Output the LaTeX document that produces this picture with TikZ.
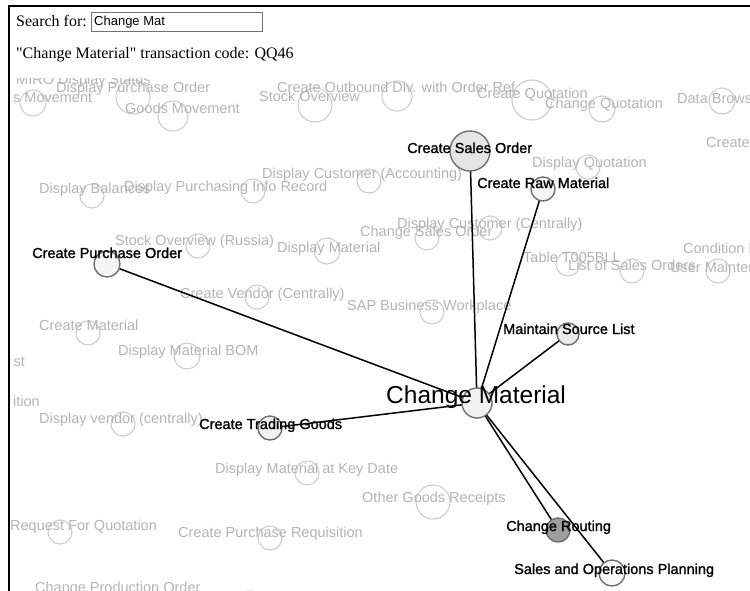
\documentclass[tikz,border=0pt]{standalone}
\usepackage{fontspec}
\newfontfamily\lsans{Liberation Sans}
\newfontfamily\lsansb{Liberation Sans}[FakeBold=1.3]
\newfontfamily\lserif{Liberation Serif}
\definecolor{faintText}{HTML}{B4B4B4}
\definecolor{faintLine}{HTML}{CDCDCD}
\definecolor{mainLine}{HTML}{707070}
\tikzset{
  fcirc/.style={circle, draw=faintLine, line width=1.1pt, inner sep=0pt, minimum size=#1},
  flabel/.style={anchor=base west, inner sep=0pt, text=faintText, font=\lsans\fontsize{14.5}{17}\selectfont},
  flabelr/.style={anchor=base east, inner sep=0pt, text=faintText, font=\lsans\fontsize{14.5}{17}\selectfont},
  mcirc/.style 2 args={circle, draw=mainLine, line width=1.4pt, inner sep=0pt, minimum size=#1, fill=#2},
  mlabel/.style={anchor=base west, inner sep=0pt, text=black, font=\lsansb\fontsize{14.5}{17}\selectfont},
  edgeline/.style={draw=black, line width=1.5pt},
  headtext/.style={anchor=base west, inner sep=0pt, font=\lserif\fontsize{16}{19}\selectfont},
  inputbox/.style={draw=black!55, line width=0.8pt, fill=white},
  frameline/.style={draw=black, line width=2pt}
}
\begin{document}
\begin{tikzpicture}[x=1pt,y=-1pt]
\useasboundingbox (0,0) rectangle (750,590);
\fill[white] (0,0) rectangle (750,590);

% header
\node[headtext] (searchlbl) at (16,26) {Search for:};
\draw[inputbox] (91,12) rectangle (262,31);
\node[anchor=base west, inner sep=0pt, font=\lsans\fontsize{13}{15}\selectfont] (searchval) at (94,25) {Change Mat};
\node[headtext] (infoline) at (16,58) {"Change Material" transaction code: QQ46};

\begin{scope}
\clip (10,78) rectangle (750,590);
% faint background circles
\node[fcirc=26] (c2) at (33,103) {};
\node[fcirc=34] (c3) at (133,97) {};
\node[fcirc=30] (c4) at (173,116) {};
\node[fcirc=30] (c5) at (397,96) {};
\node[fcirc=34] (c6) at (315,105) {};
\node[fcirc=40] (c7) at (532,100) {};
\node[fcirc=26] (c8) at (602,109) {};
\node[fcirc=26] (c9) at (722,101) {};
\node[fcirc=24] (c11) at (588,167) {};
\node[fcirc=24] (c12) at (92,196) {};
\node[fcirc=24] (c13) at (253,191) {};
\node[fcirc=24] (c14) at (369,181) {};
\node[fcirc=24] (c15) at (198,246) {};
\node[fcirc=26] (c16) at (327,251) {};
\node[fcirc=24] (c17) at (427,238) {};
\node[fcirc=24] (c18) at (490,228) {};
\node[fcirc=24] (c19) at (568,264) {};
\node[fcirc=24] (c20) at (632,271) {};
\node[fcirc=24] (c21) at (718,271) {};
\node[fcirc=24] (c23) at (257,297) {};
\node[fcirc=24] (c24) at (432,312) {};
\node[fcirc=24] (c25) at (88,333) {};
\node[fcirc=26] (c26) at (187,356) {};
\node[fcirc=24] (c29) at (123,424) {};
\node[fcirc=24] (c30) at (307,473) {};
\node[fcirc=34] (c31) at (433,502) {};
\node[fcirc=24] (c32) at (60,532) {};
\node[fcirc=24] (c33) at (270,538) {};
\node[fcirc=30] (c34) at (250,606) {};

% faint labels
\node[flabel] (l1) at (16,84) {MIRO Display Status};
\node[flabel] (l2) at (56,92) {Display Purchase Order};
\node[flabel] (l3) at (13,102) {s Movement};
\node[flabel] (l4) at (125,113) {Goods Movement};
\node[flabel] (l5) at (277,92) {Create Outbound Dlv. with Order Ref.};
\node[flabel] (l6) at (259,101) {Stock Overview};
\node[flabel] (l7) at (477,98) {Create Quotation};
\node[flabel] (l8) at (545,108) {Change Quotation};
\node[flabel] (l9) at (677,103) {Data Browser};
\node[flabel] (l10) at (706,147) {Create};
\node[flabel] (l11) at (532,167) {Display Quotation};
\node[flabel] (l12) at (39,193) {Display Balances};
\node[flabel] (l13) at (124,191) {Display Purchasing Info Record};
\node[flabel] (l14) at (262,178) {Display Customer (Accounting)};
\node[flabel] (l15) at (115,245) {Stock Overview (Russia)};
\node[flabel] (l16) at (277,252) {Display Material};
\node[flabel] (l17) at (360,236) {Change Sales Order};
\node[flabel] (l18) at (397,228) {Display Customer (Centrally)};
\node[flabel] (l19) at (523,262) {Table T005BLL};
\node[flabel] (l20) at (568,270) {List of Sales Orders};
\node[flabel] (l21) at (670,272) {User Maintenance};
\node[flabel] (l22) at (683,253) {Condition Info};
\node[flabel] (l23) at (180,298) {Create Vendor (Centrally)};
\node[flabel] (l24) at (347,310) {SAP Business Workplace};
\node[flabel] (l25) at (39,330) {Create Material};
\node[flabel] (l26) at (118,355) {Display Material BOM};
\node[flabelr] (l27) at (25,366) {st};
\node[flabelr] (l28) at (40,406) {ition};
\node[flabel] (l29) at (39,423) {Display vendor (centrally)};
\node[flabel] (l30) at (215,473) {Display Material at Key Date};
\node[flabel] (l31) at (362,502) {Other Goods Receipts};
\node[flabel] (l32) at (10,530) {Request For Quotation};
\node[flabel] (l33) at (178,537) {Create Purchase Requisition};
\node[flabel] (l34) at (35,592) {Change Production Order};

% main graph
\coordinate (cm) at (477,403);
\coordinate (cso) at (470,151);
\coordinate (crm) at (543,189);
\coordinate (cpo) at (107,264);
\coordinate (msl) at (568,334);
\coordinate (ctg) at (270,428);
\coordinate (cr) at (558,530);
\coordinate (sop) at (612,573);

\draw[edgeline] (cm) -- (cso);
\draw[edgeline] (cm) -- (crm);
\draw[edgeline] (cm) -- (cpo);
\draw[edgeline] (cm) -- (msl);
\draw[edgeline] (cm) -- (ctg);
\draw[edgeline] (cm) -- (cr);
\draw[edgeline] (cm) -- (sop);

\node[mcirc={30}{black!6}] (cmc) at (cm) {};
\node[mcirc={40}{black!10}] (csoc) at (cso) {};
\node[mcirc={24}{black!4}] (crmc) at (crm) {};
\node[mcirc={26}{black!4}] (cpoc) at (cpo) {};
\node[mcirc={22}{black!8}] (mslc) at (msl) {};
\node[mcirc={24}{black!5}] (ctgc) at (ctg) {};
\node[mcirc={24}{black!38}] (crc) at (cr) {};
\node[mcirc={26}{black!2}] (sopc) at (sop) {};

\node[anchor=base west, inner sep=0pt, font=\lsans\fontsize{24.5}{28}\selectfont] (cml) at (386,403) {Change Material};
\node[mlabel] (csol) at (407,153) {Create Sales Order};
\node[mlabel] (crml) at (477,188) {Create Raw Material};
\node[mlabel] (cpol) at (32,258) {Create Purchase Order};
\node[mlabel] (msll) at (503,334) {Maintain Source List};
\node[mlabel] (ctgl) at (199,429) {Create Trading Goods};
\node[mlabel] (crl) at (506,531) {Change Routing};
\node[mlabel] (sopl) at (514,574) {Sales and Operations Planning};
\end{scope}

% frame
\draw[frameline] (9,591) -- (9,6) -- (751,6);
\end{tikzpicture}
\end{document}
